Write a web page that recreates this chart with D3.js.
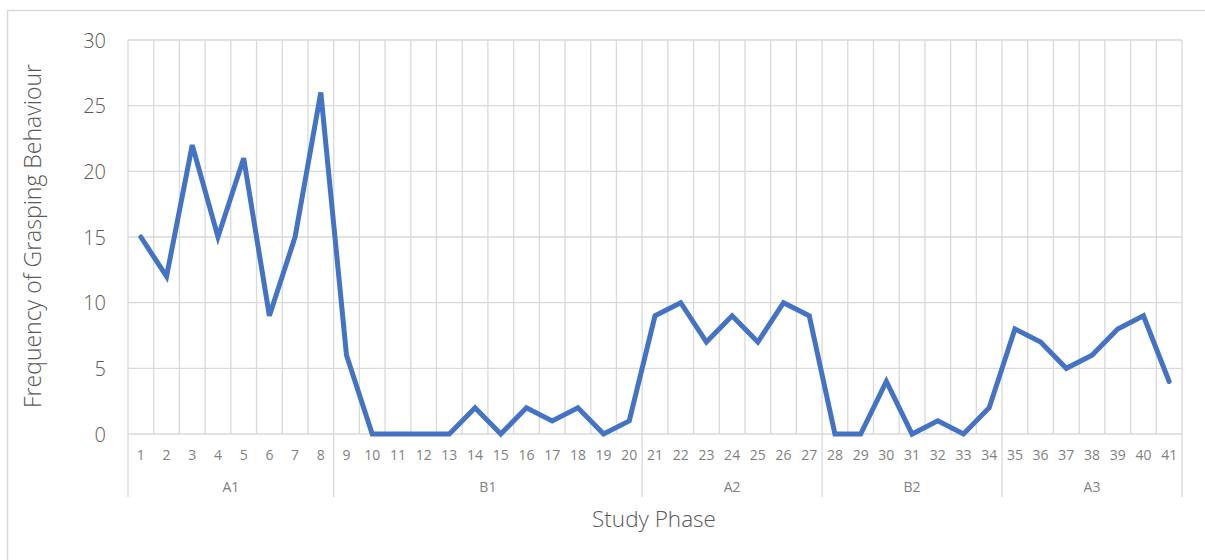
<!DOCTYPE html>
<html><head><meta charset="utf-8">
<script src="https://cdn.jsdelivr.net/npm/d3@7"></script>
<style>body{margin:0;background:#fff;} text{font-family:"Segoe UI","Open Sans","Noto Sans",sans-serif;}</style>
</head><body>
<svg id="c" width="1205" height="560"></svg>
<script>
const categories = d3.range(1, 42).map(String);
const values = [15,12,22,15,21,9,15,26,6,0,0,0,0,2,0,2,1,2,0,1,9,10,7,9,7,10,9,0,0,4,0,1,0,2,8,7,5,6,8,9,4];
const groupNames = ["A1","B1","A2","B2","A3"];
const groupSizes = [8,12,7,7,7];
const yTicks = [0,5,10,15,20,25,30];

const svg = d3.select("#c");
svg.append("rect").attr("x",7.5).attr("y",10.5).attr("width",1210).attr("height",560)
  .attr("fill","#fff").attr("stroke","#d9d9d9").attr("stroke-width",1.5);

const L=128, R=1182, T=40, B=434;
const x = d3.scaleBand().domain(categories).range([L,R]).padding(0);
const y = d3.scaleLinear().domain([0,30]).range([B,T]);
const grid = "#d9d9d9";
const ff = '"Segoe UI","Open Sans","Noto Sans",sans-serif';

svg.append("g").selectAll("line").data(yTicks).join("line")
  .attr("x1",L).attr("x2",R).attr("y1",d=>y(d)).attr("y2",d=>y(d))
  .attr("stroke",grid).attr("stroke-width",1.3);
const bounds = categories.map(c=>x(c)).concat([R]);
svg.append("g").selectAll("line").data(bounds).join("line")
  .attr("x1",d=>d).attr("x2",d=>d).attr("y1",T).attr("y2",B)
  .attr("stroke",grid).attr("stroke-width",1.3);

let cum=[0]; groupSizes.forEach(s=>cum.push(cum[cum.length-1]+s));
const gb = cum.map(i=> i<categories.length ? x(categories[i]) : R);
svg.append("g").selectAll("line").data(gb).join("line")
  .attr("x1",d=>d).attr("x2",d=>d).attr("y1",B).attr("y2",497)
  .attr("stroke",grid).attr("stroke-width",1.3);

const yAxis = d3.axisLeft(y).tickValues(yTicks).tickSize(0).tickPadding(0);
const ya = svg.append("g").attr("transform",`translate(106,0)`).call(yAxis);
ya.select(".domain").remove();
ya.selectAll("text").attr("font-size",20).attr("fill","#595959").attr("dy","0.35em")
  .style("font-family",ff).style("font-weight",300);

const xAxis = d3.axisBottom(x).tickSize(0).tickPadding(0);
const xa = svg.append("g").attr("transform",`translate(0,455)`).call(xAxis);
xa.select(".domain").remove();
xa.selectAll("text").attr("font-size",14).attr("fill","#7f7f7f").attr("dy","0.35em")
  .style("font-family",ff);

svg.append("g").selectAll("text").data(groupNames).join("text")
  .attr("x",(d,i)=>(gb[i]+gb[i+1])/2).attr("y",487).attr("dy","0.35em")
  .attr("text-anchor","middle").attr("font-size",14).attr("fill","#7f7f7f").text(d=>d);

const line = d3.line().x((d,i)=>x(categories[i])+x.bandwidth()/2).y(d=>y(d));
svg.append("path").datum(values).attr("d",line).attr("fill","none")
  .attr("stroke","#4472C4").attr("stroke-width",5).attr("stroke-linejoin","miter").attr("stroke-linecap","round");

svg.append("text").attr("x",654).attr("y",519).attr("dy","0.35em").attr("text-anchor","middle")
  .attr("font-size",22.5).attr("font-weight",300).attr("fill","#595959").text("Study Phase");
svg.append("text").attr("transform","translate(33,236) rotate(-90)").attr("dy","0.35em")
  .attr("text-anchor","middle").attr("font-size",23).attr("font-weight",300).attr("fill","#595959").text("Frequency of Grasping Behaviour");
</script>
</body></html>
